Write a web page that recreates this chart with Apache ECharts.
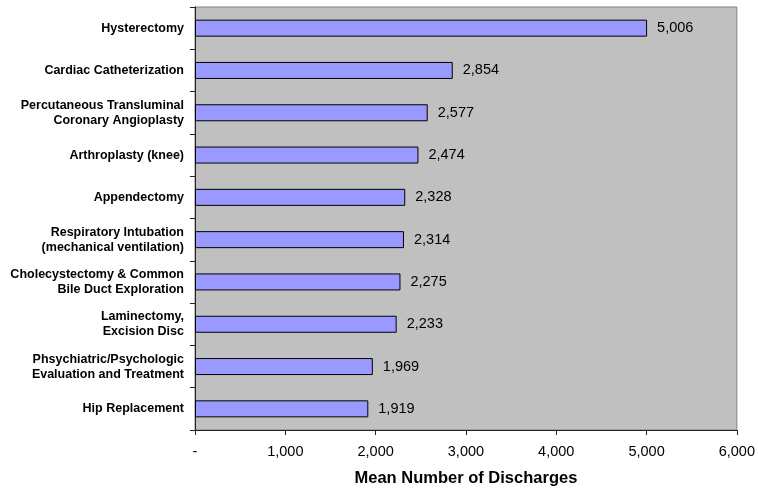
<!DOCTYPE html>
<html>
<head>
<meta charset="utf-8">
<style>
  html, body { margin: 0; padding: 0; background: #ffffff; }
  #chart { width: 758px; height: 492px; }
</style>
<script src="https://cdn.jsdelivr.net/npm/echarts@6/dist/echarts.min.js"></script>
</head>
<body>
<div id="chart"></div>
<script>
// Procedures, top to bottom
const procedures = [
  'Hysterectomy',
  'Cardiac Catheterization',
  'Percutaneous Transluminal\nCoronary Angioplasty',
  'Arthroplasty (knee)',
  'Appendectomy',
  'Respiratory Intubation\n(mechanical ventilation)',
  'Cholecystectomy & Common\nBile Duct Exploration',
  'Laminectomy,\nExcision Disc',
  'Phsychiatric/Psychologic\nEvaluation and Treatment',
  'Hip Replacement'
];

// Mean number of discharges per procedure
const meanDischarges = [5006, 2854, 2577, 2474, 2328, 2314, 2275, 2233, 1969, 1919];

// Value axis range
const axisMin = 0;
const axisMax = 6000;
const axisStep = 1000;

const fontFamily = '"Liberation Sans", Arial, Helvetica, sans-serif';

function withCommas(v) {
  return String(Math.round(v)).replace(/\B(?=(\d{3})+(?!\d))/g, ',');
}

const chart = echarts.init(document.getElementById('chart'), null, { renderer: 'canvas' });

chart.setOption({
  animation: false,
  backgroundColor: '#ffffff',
  grid: {
    left: 195,
    right: 21,
    top: 7,
    bottom: 59,
    show: true,
    backgroundColor: '#C0C0C0',
    borderColor: '#808080',
    borderWidth: 1
  },
  xAxis: {
    type: 'value',
    min: axisMin,
    max: axisMax,
    interval: axisStep,
    name: 'Mean Number of Discharges',
    nameLocation: 'middle',
    nameGap: 40,
    nameTextStyle: {
      fontFamily: fontFamily,
      fontSize: 16.5,
      fontWeight: 'bold',
      color: '#000000'
    },
    axisLine: { show: true, lineStyle: { color: '#222222', width: 1 } },
    axisTick: { show: true, length: 5, lineStyle: { color: '#222222' } },
    splitLine: { show: false },
    axisLabel: {
      margin: 14,
      fontFamily: fontFamily,
      fontSize: 14.5,
      color: '#000000',
      formatter: function (v) { return v === 0 ? '-' : withCommas(v); }
    }
  },
  yAxis: {
    type: 'category',
    inverse: true,
    data: procedures,
    axisLine: { show: true, lineStyle: { color: '#222222', width: 1 } },
    axisTick: { show: true, length: 5, lineStyle: { color: '#222222' } },
    splitLine: { show: false },
    axisLabel: {
      margin: 11,
      fontFamily: fontFamily,
      fontSize: 12.5,
      fontWeight: 'bold',
      color: '#000000',
      lineHeight: 15,
      align: 'right'
    }
  },
  series: [{
    type: 'bar',
    data: meanDischarges,
    barWidth: 17,
    itemStyle: {
      color: '#9999FF',
      borderColor: '#000000',
      borderWidth: 1
    },
    label: {
      show: true,
      position: 'right',
      distance: 10,
      fontFamily: fontFamily,
      fontSize: 14.5,
      color: '#000000',
      formatter: function (p) { return withCommas(p.value); }
    }
  }]
});
</script>
</body>
</html>
